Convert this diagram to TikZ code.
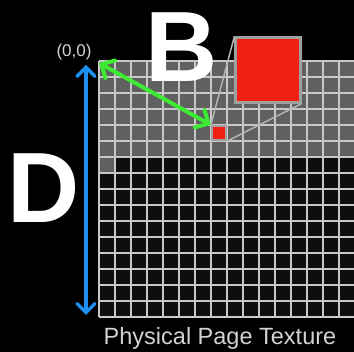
\documentclass[tikz,border=0pt]{standalone}
\usepackage{fontspec}
\setmainfont{Liberation Sans}
\usepackage{xcolor}
\usepackage{tikz}
\usetikzlibrary{arrows.meta}

\definecolor{cellgray}{RGB}{96,96,96}
\definecolor{cellblack}{RGB}{14,14,14}
\definecolor{gridline}{RGB}{200,200,200}
\definecolor{pagered}{RGB}{240,32,20}
\definecolor{arrowgreen}{RGB}{60,235,50}
\definecolor{arrowblue}{RGB}{30,144,240}
\definecolor{labelgray}{RGB}{210,210,210}

\tikzset{
  gridrule/.style={gridline, line width=1.3pt},
  redbox/.style={draw=gridline!80!black, line width=2.2pt, fill=pagered, inner sep=0pt},
  zoomline/.style={gridline!90!black, line width=1.5pt},
  greenarrow/.style={arrowgreen, line width=4pt, line cap=round,
    {Straight Barb[length=10pt,width=20pt,line cap=round]}-{Straight Barb[length=10pt,width=20pt,line cap=round]}},
  bluearrow/.style={arrowblue, line width=3.5pt, line cap=round,
    {Straight Barb[length=9pt,width=18pt,line cap=round]}-{Straight Barb[length=9pt,width=18pt,line cap=round]}},
  bigletter/.style={text=white, font=\bfseries\fontsize{100}{100}\selectfont, inner sep=0pt, anchor=base}
}

\begin{document}
\begin{tikzpicture}[x=1pt, y=-1pt]

    \fill[black] (0,0) rectangle (354,352);
    \useasboundingbox (0,0) rectangle (354,352);

    \begin{scope}
        \clip (0,0) rectangle (354,352);
        \fill[cellblack] (99,61) rectangle (355,317);
        \fill[cellgray] (99,61) rectangle (355,157);
        \fill[cellgray] (99,157) rectangle (115,173);
        \foreach \k in {0,...,16} {
            \draw[gridrule] (99+16*\k,61) -- (99+16*\k,317);
            \draw[gridrule] (99,61+16*\k) -- (355,61+16*\k);
        }
    \end{scope}

    \node[bigletter] (letterB) at (182,82) {B};
    \node[bigletter] (letterD) at (44,223) {D};

    \node[text=labelgray, font=\fontsize{17}{17}\selectfont] (origin) at (74,52) {(0,0)};
    \node[text=labelgray, font=\fontsize{23.5}{23.5}\selectfont, anchor=base] (caption) at (220,345) {Physical Page Texture};

    \node[redbox, minimum size=14pt] (page) at (219,133) {};
    \node[redbox, minimum size=65pt] (zoom) at (268,70) {};

    \draw[zoomline] (page.north west) -- (zoom.north west);
    \draw[zoomline] (page.south east) -- (zoom.south east);

    \coordinate (corner) at (99,63);
    \draw[greenarrow] (corner) -- (page.north west);

    \coordinate (dtop) at (86,65);
    \coordinate (dbottom) at (86,315);
    \draw[bluearrow] (dtop) -- (dbottom);

\end{tikzpicture}
\end{document}
